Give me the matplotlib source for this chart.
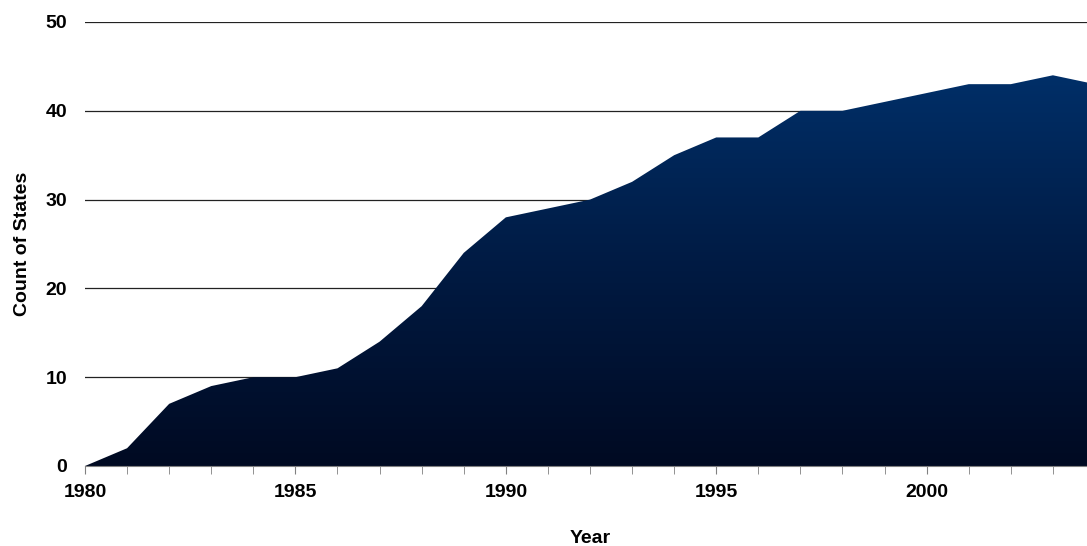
import matplotlib.pyplot as plt
import numpy as np
from matplotlib.colors import LinearSegmentedColormap

years = list(range(1980, 2005))
states = [0, 2, 7, 9, 10, 10, 11, 14, 18, 24, 28, 29, 30, 32, 35, 37, 37,
          40, 40, 41, 42, 43, 43, 44, 43]
y_ticks = [0, 10, 20, 30, 40, 50]
x_ticks = [1980, 1985, 1990, 1995, 2000]

plt.rcParams['font.family'] = ['Liberation Sans', 'DejaVu Sans']

fig = plt.figure(figsize=(10.87, 5.46), dpi=100)
ax = fig.add_axes([85 / 1087, 80 / 546, 1010 / 1087, 444 / 546])

# gridlines behind the area
for t in y_ticks[1:]:
    ax.axhline(t, color='#222222', lw=0.9, zorder=1)

# filled area with vertical gradient
poly = ax.fill_between(years, states, 0, facecolor='none', edgecolor='none', zorder=2)
cmap = LinearSegmentedColormap.from_list('navy', ['#000a22', '#001a42', '#002f68'])
grad = np.linspace(0, 1, 256).reshape(-1, 1)
img = ax.imshow(grad, cmap=cmap, origin='lower', aspect='auto',
                extent=[years[0], years[-1], 0, max(states)], zorder=2)
img.set_clip_path(poly.get_paths()[0], transform=ax.transData)

ax.set_xlim(1980, 2004)
ax.set_ylim(0, 50)

for s in ['top', 'right', 'left']:
    ax.spines[s].set_visible(False)
ax.spines['bottom'].set_color('#808080')
ax.spines['bottom'].set_zorder(3)

ax.set_xticks(years, minor=True)
ax.set_xticks(x_ticks)
ax.set_xticklabels([str(x) for x in x_ticks], fontsize=14, fontweight='bold')
ax.tick_params(axis='x', which='both', direction='out', length=6, color='#808080', pad=7)
ax.set_yticks(y_ticks)
ax.set_yticklabels([str(y) for y in y_ticks], fontsize=14, fontweight='bold')
ax.tick_params(axis='y', length=0, pad=13)

ax.set_xlabel('Year', fontsize=14, fontweight='bold', labelpad=21)
ax.set_ylabel('Count of States', fontsize=14, fontweight='bold', labelpad=10)

plt.savefig('out.png', dpi=100)
